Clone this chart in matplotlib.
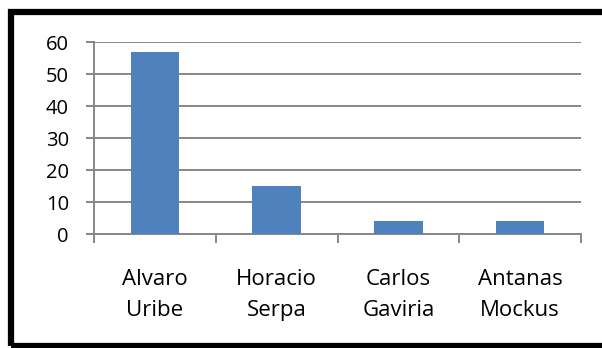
import numpy as np
import matplotlib
matplotlib.use("Agg")
import matplotlib.pyplot as plt
from matplotlib.patches import Rectangle

candidates = ["Alvaro\nUribe", "Horacio\nSerpa", "Carlos\nGaviria", "Antanas\nMockus"]
votes = [57, 15, 4, 4]
yticks = [0, 10, 20, 30, 40, 50, 60]

plt.rcParams['font.family'] = ['Open Sans', 'DejaVu Sans']

fig = plt.figure(figsize=(6.02, 3.48), dpi=100)
W, H = 602, 348
ax = fig.add_axes([94 / W, (H - 234) / H, (581 - 94) / W, 192 / H])

x = np.arange(len(votes))
ax.bar(x, votes, width=0.4, color='#4F81BD', zorder=3)

grey = '#878787'
ax.set_xlim(-0.5, len(votes) - 0.5)
ax.set_ylim(0, 60)
ax.set_yticks(yticks)
ax.yaxis.grid(True, color=grey, linewidth=1.4, zorder=0)
ax.tick_params(axis='y', length=6, width=1.4, color=grey, pad=12, labelsize=14.5)

# boundary ticks between categories, labels centred under each bar
ax.set_xticks(np.arange(len(votes) + 1) - 0.5)
ax.set_xticklabels([])
ax.set_xticks(x, minor=True)
ax.set_xticklabels(candidates, minor=True, fontsize=16, linespacing=1.65)
ax.tick_params(axis='x', which='major', length=6.5, width=1.4, color=grey)
ax.tick_params(axis='x', which='minor', length=0, pad=25)

for side in ['top', 'right']:
    ax.spines[side].set_visible(False)
for side in ['left', 'bottom']:
    ax.spines[side].set_color(grey)
    ax.spines[side].set_linewidth(1.4)

# outer black frame
fig.patches.append(Rectangle((10.5 / W, 2 / H), (W + 20) / W, (H - 14) / H,
                             transform=fig.transFigure, fill=False,
                             edgecolor='black', linewidth=4.5))

fig.savefig('out.png', dpi=100)
